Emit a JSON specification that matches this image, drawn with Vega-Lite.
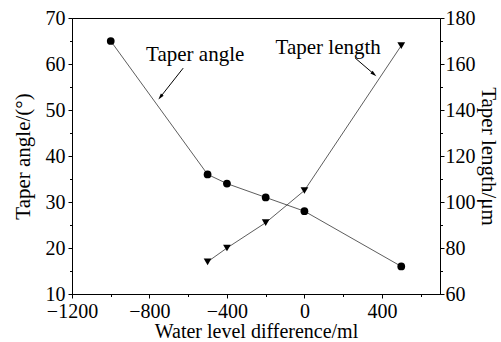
{
  "$schema": "https://vega.github.io/schema/vega-lite/v6.json",
  "width": 368,
  "height": 276,
  "autosize": {"type": "none"},
  "padding": {"left": 72, "top": 18, "right": 61, "bottom": 48},
  "background": "white",
  "config": {
    "view": {"stroke": "black", "strokeWidth": 1},
    "font": "Liberation Serif",
    "axis": {
      "grid": false,
      "domainColor": "black",
      "domainWidth": 1,
      "tickColor": "black",
      "tickWidth": 1,
      "labelColor": "black",
      "titleColor": "black",
      "labelFont": "Liberation Serif",
      "titleFont": "Liberation Serif",
      "labelFontSize": 20,
      "titleFontSize": 21,
      "titleFontWeight": "normal",
      "labelFlush": false,
      "labelOverlap": false
    }
  },
  "datasets": {
    "angle": [
      {"water": -1000, "angle": 65},
      {"water": -500, "angle": 36},
      {"water": -400, "angle": 34},
      {"water": -200, "angle": 31},
      {"water": 0, "angle": 28},
      {"water": 500, "angle": 16}
    ],
    "length": [
      {"water": -500, "length": 74},
      {"water": -400, "length": 80},
      {"water": -200, "length": 91},
      {"water": 0, "length": 105},
      {"water": 500, "length": 168}
    ],
    "notes": [
      {"x": -564, "y": 62, "label": "Taper angle"},
      {"x": 123, "y": 63.5, "label": "Taper length"}
    ],
    "arrows": [
      {"id": "a", "x": -626, "y": 59.1, "x2": -744, "y2": 52.8},
      {"id": "b", "x": 262, "y": 61.3, "x2": 359, "y2": 57.8}
    ]
  },
  "layer": [
    {
      "layer": [
        {
          "data": {"name": "angle"},
          "mark": {"type": "line", "color": "#333333", "strokeWidth": 0.8},
          "encoding": {
            "x": {"field": "water", "type": "quantitative"},
            "y": {"field": "angle", "type": "quantitative"}
          }
        },
        {
          "data": {"name": "angle"},
          "mark": {"type": "point", "shape": "circle", "filled": true, "color": "black", "size": 60, "opacity": 1},
          "encoding": {
            "x": {"field": "water", "type": "quantitative"},
            "y": {"field": "angle", "type": "quantitative"}
          }
        },
        {
          "data": {"name": "notes"},
          "mark": {"type": "text", "font": "Liberation Serif", "fontSize": 21, "color": "black", "align": "center", "baseline": "middle"},
          "encoding": {
            "x": {"field": "x", "type": "quantitative"},
            "y": {"field": "y", "type": "quantitative"},
            "text": {"field": "label"}
          }
        },
        {
          "data": {"name": "arrows"},
          "mark": {"type": "rule", "color": "black", "strokeWidth": 1},
          "encoding": {
            "x": {"field": "x", "type": "quantitative"},
            "y": {"field": "y", "type": "quantitative"},
            "x2": {"field": "x2"},
            "y2": {"field": "y2"}
          }
        },
        {
          "data": {"name": "arrows"},
          "transform": [{"filter": "datum.id === 'a'"}],
          "mark": {"type": "point", "shape": "M0,-1L0.55,1L-0.55,1Z", "filled": true, "color": "black", "size": 40, "angle": 218, "opacity": 1},
          "encoding": {
            "x": {"field": "x2", "type": "quantitative"},
            "y": {"field": "y2", "type": "quantitative"}
          }
        },
        {
          "data": {"name": "arrows"},
          "transform": [{"filter": "datum.id === 'b'"}],
          "mark": {"type": "point", "shape": "M0,-1L0.55,1L-0.55,1Z", "filled": true, "color": "black", "size": 40, "angle": 130, "opacity": 1},
          "encoding": {
            "x": {"field": "x2", "type": "quantitative"},
            "y": {"field": "y2", "type": "quantitative"}
          }
        }
      ],
      "encoding": {
        "x": {
          "type": "quantitative",
          "scale": {"domain": [-1200, 700], "nice": false, "zero": false},
          "axis": {
            "title": "Water level difference/ml",
            "format": "d",
            "values": [-1200, -1100, -1000, -900, -800, -700, -600, -500, -400, -300, -200, -100, 0, 100, 200, 300, 400, 500, 600],
            "labelExpr": "datum.value % 400 === 0 ? datum.label : ''",
            "tickSize": {"condition": {"test": "datum.value % 400 === 0", "value": 4}, "value": 2.5},
            "labelFontSize": 20,
            "labelPadding": 3,
            "titleFontSize": 20,
            "titlePadding": 0
          }
        },
        "y": {
          "type": "quantitative",
          "scale": {"domain": [10, 70], "nice": false, "zero": false},
          "axis": {
            "title": "Taper angle/(°)",
            "orient": "left",
            "values": [10, 15, 20, 25, 30, 35, 40, 45, 50, 55, 60, 65, 70],
            "labelExpr": "datum.value % 10 === 0 ? datum.label : ''",
            "tickSize": {"condition": {"test": "datum.value % 10 === 0", "value": 4}, "value": 2.5},
            "labelFontSize": 20,
            "labelPadding": 3,
            "titlePadding": 12
          }
        }
      }
    },
    {
      "layer": [
        {
          "data": {"name": "length"},
          "mark": {"type": "line", "color": "#333333", "strokeWidth": 0.8},
          "encoding": {
            "x": {"field": "water", "type": "quantitative"},
            "y": {"field": "length", "type": "quantitative"}
          }
        },
        {
          "data": {"name": "length"},
          "mark": {"type": "point", "shape": "triangle-down", "filled": true, "color": "black", "size": 60, "opacity": 1},
          "encoding": {
            "x": {"field": "water", "type": "quantitative"},
            "y": {"field": "length", "type": "quantitative"}
          }
        }
      ],
      "encoding": {
        "y": {
          "type": "quantitative",
          "scale": {"domain": [60, 180], "nice": false, "zero": false},
          "axis": {
            "title": "Taper length/μm",
            "orient": "right",
            "values": [60, 70, 80, 90, 100, 110, 120, 130, 140, 150, 160, 170, 180],
            "labelExpr": "datum.value % 20 === 0 ? datum.label : ''",
            "tickSize": {"condition": {"test": "datum.value % 20 === 0", "value": 4}, "value": 2.5},
            "labelFontSize": 20,
            "labelPadding": 1,
            "titlePadding": 2
          }
        }
      }
    }
  ],
  "resolve": {"scale": {"y": "independent"}}
}
